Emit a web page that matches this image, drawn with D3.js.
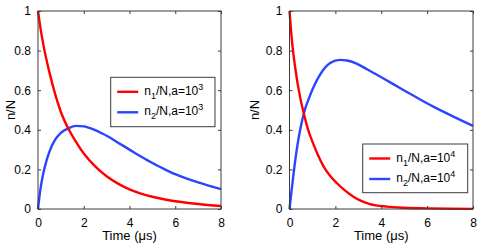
<!DOCTYPE html>
<html>
<head>
<meta charset="utf-8">
<script src="https://cdn.jsdelivr.net/npm/d3@7"></script>
<style>
  body { margin: 0; background: #fff; }
  svg { display: block; font-family: "Liberation Sans", Arial, Helvetica, sans-serif; }
</style>
</head>
<body>
<svg id="chart" width="480" height="245"></svg>
<script>
// values
var xTicks = [0, 2, 4, 6, 8];
var yTicks = [0, 0.2, 0.4, 0.6, 0.8, 1];
var yTickLabels = ["0", "0.2", "0.4", "0.6", "0.8", "1"];

// panel 1, a = 10^3
var tRed1 = [0, 0.1, 0.25, 0.5, 0.75, 1, 1.33, 1.6, 2, 2.5, 3, 3.5, 4, 4.5, 5, 5.5, 6, 7, 8];
var red1 = [1, 0.92, 0.82, 0.69, 0.58, 0.49, 0.405, 0.35, 0.28, 0.215, 0.165, 0.128, 0.099, 0.078, 0.062, 0.049, 0.039, 0.025, 0.015];
var tBlue1 = [0, 0.1, 0.2, 0.35, 0.5, 0.75, 1, 1.33, 1.66, 2, 2.4, 2.83, 3, 3.5, 4, 4.5, 5, 5.5, 6, 7, 8];
var blue1 = [0, 0.095, 0.163, 0.235, 0.29, 0.35, 0.385, 0.408, 0.42, 0.417, 0.403, 0.38, 0.37, 0.335, 0.3, 0.265, 0.232, 0.203, 0.176, 0.134, 0.1];

// panel 2, a = 10^4
var tRed2 = [0, 0.11, 0.25, 0.47, 0.62, 0.8, 1.05, 1.25, 1.49, 1.75, 2.07, 2.4, 2.79, 3.1, 3.51, 4.24, 5, 6, 7, 8];
var red2 = [1, 0.847, 0.712, 0.56, 0.485, 0.405, 0.325, 0.27, 0.214, 0.17, 0.13, 0.095, 0.062, 0.042, 0.025, 0.012, 0.006, 0.003, 0.001, 0.0005];
var tBlue2 = [0, 0.11, 0.2, 0.33, 0.5, 0.63, 0.9, 1.34, 1.77, 2.2, 2.5, 2.9, 3.36, 4.08, 4.8, 5.53, 6.25, 7.12, 8];
var blue2 = [0, 0.113, 0.2, 0.31, 0.42, 0.485, 0.575, 0.68, 0.737, 0.753, 0.75, 0.736, 0.707, 0.66, 0.612, 0.564, 0.518, 0.468, 0.42];

var panels = [
    { left: 38, right: 221, tr: tRed1, r: red1, tb: tBlue1, b: blue1, exp: "3",
      legend: { x: 110.7, y: 77.3, w: 104.3, h: 49.4 }, yLabelX: 10 },
    { left: 289.5, right: 473, tr: tRed2, r: red2, tb: tBlue2, b: blue2, exp: "4",
      legend: { x: 362.7, y: 144, w: 105, h: 48.7 }, yLabelX: 254 }
];

var svg = d3.select("#chart");
var plotTop = 11, plotBottom = 209;
var axisColor = "#3a3a3a";

function drawPanel(p)
{
    var x = d3.scaleLinear().domain([0, 8]).range([p.left, p.right]);
    var y = d3.scaleLinear().domain([0, 1]).range([plotBottom, plotTop]);
    var g = svg.append("g");

    // lines first, frame on top
    var line = d3.line()
        .x(function(d) { return x(d[0]); })
        .y(function(d) { return y(d[1]); })
        .curve(d3.curveMonotoneX);

    g.append("path")
        .datum(d3.zip(p.tb, p.b))
        .attr("d", line)
        .attr("fill", "none")
        .attr("stroke", "#2a45ff")
        .attr("stroke-width", 2.4);

    g.append("path")
        .datum(d3.zip(p.tr, p.r))
        .attr("d", line)
        .attr("fill", "none")
        .attr("stroke", "#ff0000")
        .attr("stroke-width", 2.4);

    // ticks on all four sides, pointing inward
    g.append("g").attr("transform", "translate(0," + plotBottom + ")")
        .call(d3.axisBottom(x).tickValues(xTicks).tickSizeInner(-3).tickSizeOuter(0).tickPadding(9).tickFormat(d3.format("d")));
    g.append("g").attr("transform", "translate(0," + plotTop + ")")
        .call(d3.axisTop(x).tickValues(xTicks).tickSizeInner(-3).tickSizeOuter(0).tickFormat(""));
    g.append("g").attr("transform", "translate(" + p.left + ",0)")
        .call(d3.axisLeft(y).tickValues(yTicks).tickSizeInner(-3).tickSizeOuter(0).tickPadding(7)
            .tickFormat(function(d, i) { return yTickLabels[i]; }));
    g.append("g").attr("transform", "translate(" + p.right + ",0)")
        .call(d3.axisRight(y).tickValues(yTicks).tickSizeInner(-3).tickSizeOuter(0).tickFormat(""));

    g.selectAll(".domain").remove();
    g.selectAll(".tick line").attr("stroke", axisColor);
    g.selectAll(".tick text").attr("fill", "#000").style("font-size", "12px").style("font-family", null);

    g.append("rect")
        .attr("x", p.left).attr("y", plotTop)
        .attr("width", p.right - p.left).attr("height", plotBottom - plotTop)
        .attr("fill", "none").attr("stroke", axisColor).attr("stroke-width", 1);

    // axis titles
    g.append("text")
        .attr("x", (p.left + p.right) / 2).attr("y", 240)
        .attr("text-anchor", "middle").style("font-size", "13px")
        .text("Time (\u03bcs)");
    g.append("text")
        .attr("transform", "translate(" + p.yLabelX + "," + (plotTop + plotBottom) / 2 + ") rotate(-90)")
        .attr("text-anchor", "middle").attr("dy", "0.35em").style("font-size", "13px")
        .text("n/N");

    // legend
    var L = p.legend;
    var lg = g.append("g").attr("transform", "translate(" + L.x + "," + L.y + ")");
    lg.append("rect").attr("width", L.w).attr("height", L.h)
        .attr("fill", "#fff").attr("stroke", axisColor).attr("stroke-width", 1);
    var items = [{ c: "#ff0000", s: "1" }, { c: "#2a45ff", s: "2" }];
    items.forEach(function(it, i) {
        var yy = 14.5 + i * 20.5;
        lg.append("line").attr("x1", 6.5).attr("x2", 27.5).attr("y1", yy).attr("y2", yy)
            .attr("stroke", it.c).attr("stroke-width", 2.4);
        var t = lg.append("text").attr("x", 33.5).attr("y", yy + 3).style("font-size", "12px");
        t.append("tspan").text("n");
        t.append("tspan").attr("dy", 4).style("font-size", "9px").text(it.s);
        t.append("tspan").attr("dy", -4).text("/N,a=10");
        t.append("tspan").attr("dy", -5).style("font-size", "9px").text(p.exp);
    });
}

panels.forEach(drawPanel);
</script>
</body>
</html>
